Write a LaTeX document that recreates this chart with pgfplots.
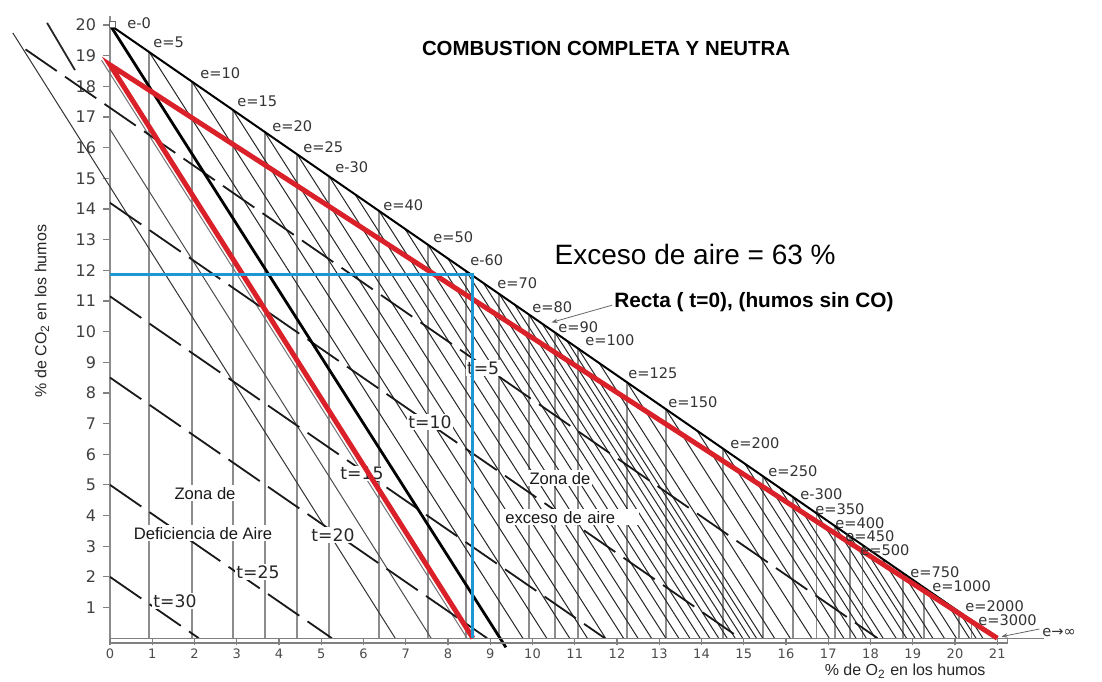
\documentclass[border=0pt]{standalone}
\usepackage{fontspec}
\setmainfont{Liberation Sans}
\newfontfamily\dejavu{DejaVu Sans}
\usepackage{pgfplots}
\pgfplotsset{compat=1.18}
\usetikzlibrary{arrows.meta}
\definecolor{redline}{RGB}{218,32,40}
\definecolor{blueline}{RGB}{30,152,212}
\tikzset{
 elab/.style={anchor=west, inner sep=0pt, font=\dejavu\fontsize{7.3}{8}\selectfont, text=black!80},
 tlab/.style={fill=white, inner sep=0.6pt, font=\dejavu\fontsize{8.6}{10}\selectfont, text=black!85},
 zlab/.style={fill=white, inner sep=1pt, font=\fontsize{8.3}{10}\selectfont, text=black!90},
 tline/.style={black!90, line width=0.9pt, dash pattern=on 19pt off 5pt},
}
\begin{document}
\begin{tikzpicture}
\begin{axis}[
 scale only axis, width=443.5pt, height=306.5pt,
 xmin=0, xmax=21, ymin=0, ymax=20,
 clip=false, axis line style={draw=none},
 xtick={0,...,21}, ytick={1,...,20},
 tick pos=left, tick align=outside,
 major tick length=3.5pt,
 tick style={black!50, line width=0.6pt},
 /pgf/number format/assume math mode=true,
 xticklabel style={font=\dejavu\fontsize{6.5}{7}\selectfont, text=black!70, inner sep=1.5pt},
 yticklabel style={font=\dejavu\fontsize{8}{9}\selectfont, text=black!75},
 unbounded coords=jump,
]
% vertical lines of constant excess air e
\addplot[black!45, line width=0.9pt] coordinates {
(0,0) (0,20.3) (0,nan)
(0.93,0) (0.93,19.114) (0.93,nan)
(1.94,0) (1.94,18.152) (1.94,nan)
(2.91,0) (2.91,17.229) (2.91,nan)
(3.66,0) (3.66,16.514) (3.66,nan)
(4.43,0) (4.43,15.781) (4.43,nan)
(5.19,0) (5.19,15.057) (5.19,nan)
(6.37,0) (6.37,13.933) (6.37,nan)
(7.527,0) (7.527,12.831) (7.527,nan)
(8.428,0) (8.428,11.973) (8.428,nan)
(9.216,0) (9.216,11.223) (9.216,nan)
(9.912,0) (9.912,10.560) (9.912,nan)
(10.53,0) (10.53,9.971) (10.53,nan)
(11.08,0) (11.08,9.448) (11.08,nan)
(12.238,0) (12.238,8.345) (12.238,nan)
(13.152,0) (13.152,7.474) (13.152,nan)
(14.508,0) (14.508,6.183) (14.508,nan)
(15.46,0) (15.46,5.276) (15.46,nan)
(16.17,0) (16.17,4.600) (16.17,nan)
(16.72,0) (16.72,4.076) (16.72,nan)
(17.16,0) (17.16,3.657) (17.16,nan)
(17.52,0) (17.52,3.314) (17.52,nan)
(17.81,0) (17.81,3.038) (17.81,nan)
(18.76,0) (18.76,2.133) (18.76,nan)
(19.27,0) (19.27,1.648) (19.27,nan)
(20.10,0) (20.10,0.857) (20.10,nan)
(20.39,0) (20.39,0.581)
};
% thin diagonals (excess air zone)
\addplot[black!85, line width=0.5pt] coordinates {
(0.93,19.114) (9.771,0) (0,nan)
(1.94,18.152) (10.336,0) (0,nan)
(2.91,17.229) (10.879,0) (0,nan)
(3.66,16.514) (11.298,0) (0,nan)
(4.43,15.781) (11.729,0) (0,nan)
(5.19,15.057) (12.154,0) (0,nan)
(5.80,14.476) (12.496,0) (0,nan)
(6.37,13.933) (12.815,0) (0,nan)
(6.98,13.352) (13.156,0) (0,nan)
(7.527,12.831) (13.462,0) (0,nan)
(7.993,12.388) (13.723,0) (0,nan)
(8.428,11.973) (13.966,0) (0,nan)
(8.835,11.586) (14.194,0) (0,nan)
(9.216,11.223) (14.407,0) (0,nan)
(9.574,10.882) (14.607,0) (0,nan)
(9.912,10.560) (14.796,0) (0,nan)
(10.229,10.258) (14.974,0) (0,nan)
(10.53,9.971) (15.142,0) (0,nan)
(10.813,9.702) (15.300,0) (0,nan)
(11.08,9.448) (15.450,0) (0,nan)
(11.579,8.972) (15.729,0) (0,nan)
(12.238,8.345) (16.098,0) (0,nan)
(13.152,7.474) (16.609,0) (0,nan)
(13.894,6.768) (17.024,0) (0,nan)
(14.508,6.183) (17.368,0) (0,nan)
(15.024,5.691) (17.657,0) (0,nan)
(15.46,5.276) (17.900,0) (0,nan)
(15.844,4.910) (18.115,0) (0,nan)
(16.17,4.600) (18.298,0) (0,nan)
(16.72,4.076) (18.606,0) (0,nan)
(17.16,3.657) (18.852,0) (0,nan)
(17.52,3.314) (19.053,0) (0,nan)
(17.81,3.038) (19.215,0) (0,nan)
(18.274,2.596) (19.475,0) (0,nan)
(18.76,2.133) (19.747,0) (0,nan)
(19.27,1.648) (20.032,0) (0,nan)
(19.818,1.126) (20.339,0) (0,nan)
(20.10,0.857) (20.497,0) (0,nan)
(20.39,0.581) (20.659,0)
};
% thin diagonals (air deficiency zone)
\addplot[black!80, line width=0.5pt] coordinates {(-2.3,19.74) (6.75,0)};
\addplot[black!70, line width=0.5pt] coordinates {(0,16.6) (7.6,0)};
\addplot[black!85, line width=0.9pt] coordinates {(-1.49,20.07) (-0.83,18.53)};
\addplot[black!55, line width=0.5pt] coordinates {(-0.2,18.85) (8.45,0)};
% lines t = const (dashed)
\addplot[tline] coordinates {(-2.0,19.205) (18.165,0)};
\addplot[tline] coordinates {(0,14.2) (14.91,0)};
\addplot[tline] coordinates {(0,11.15) (11.71,0)};
\addplot[tline] coordinates {(0,8.5) (8.925,0)};
\addplot[tline] coordinates {(0,5.0) (5.25,0)};
\addplot[tline] coordinates {(0,2.0) (2.1,0)};
% complete combustion line and neutral combustion line
\addplot[black, line width=1pt] coordinates {(0,20) (21,0)};
\addplot[black, line width=1.4pt] coordinates {(0,20) (9.37,-0.3)};

% x axis ruler
\draw[black!50, line width=0.6pt] (axis cs:0,0) -- (axis cs:21.25,0) -- (axis cs:21.25,-0.16) -- (axis cs:0,-0.16);
\draw[black!50, line width=0.5pt] (axis cs:21.25,0) -- (axis cs:22.1,0);
\draw[black!60, fill=white, line width=0.5pt] (axis cs:-0.02,19.93) rectangle (axis cs:0.12,20.1);

% labels with white background
\node[tlab] at (axis cs:8.83,8.81) {t=5};
\node[tlab] at (axis cs:7.574,7.047) {t=10};
\node[tlab] at (axis cs:5.964,5.383) {t=15};
\node[tlab] at (axis cs:5.278,3.36) {t=20};
\node[tlab] at (axis cs:3.503,2.153) {t=25};
\node[tlab] at (axis cs:1.538,1.207) {t=30};
\node[zlab] at (axis cs:2.249,4.731) {Zona de};
\node[zlab] at (axis cs:2.201,3.426) {Deficiencia de Aire};
\node[zlab] at (axis cs:10.651,5.22) {Zona de};
\node[zlab, anchor=west, text width=66pt] at (axis cs:9.30,3.948) {exceso de aire};

% red and blue lines
\addplot[redline, line width=2.5pt, line join=miter, miter limit=20] coordinates {(21,0) (0,18.7) (8.59,0)};
\addplot[blueline, line width=1.5pt] coordinates {(0,11.85) (8.59,11.85) (8.59,0)};

% e labels
\node[elab] at (axis cs:0.402,20.065) {e-0};
\node[elab] at (axis cs:1.018,19.445) {e=5};
\node[elab] at (axis cs:2.130,18.434) {e=10};
\node[elab] at (axis cs:3.006,17.52) {e=15};
\node[elab] at (axis cs:3.834,16.705) {e=20};
\node[elab] at (axis cs:4.568,16.02) {e=25};
\node[elab] at (axis cs:5.325,15.367) {e-30};
\node[elab] at (axis cs:6.462,14.127) {e=40};
\node[elab] at (axis cs:7.645,13.083) {e=50};
\node[elab] at (axis cs:8.521,12.333) {e-60};
\node[elab] at (axis cs:9.160,11.582) {e=70};
\node[elab] at (axis cs:9.988,10.8) {e=80};
\node[elab] at (axis cs:10.604,10.147) {e=90};
\node[elab] at (axis cs:11.24,9.723) {e=100};
\node[elab] at (axis cs:12.26,8.646) {e=125};
\node[elab] at (axis cs:13.207,7.70) {e=150};
\node[elab] at (axis cs:14.675,6.362) {e=200};
\node[elab] at (axis cs:15.574,5.449) {e=250};
\node[elab] at (axis cs:16.331,4.698) {e-300};
\node[elab] at (axis cs:16.686,4.20) {e=350};
\node[elab] at (axis cs:17.16,3.75) {e=400};
\node[elab] at (axis cs:17.396,3.32) {e=450};
\node[elab] at (axis cs:17.751,2.88) {e=500};
\node[elab] at (axis cs:18.935,2.153) {e=750};
\node[elab] at (axis cs:19.456,1.697) {e=1000};
\node[elab] at (axis cs:20.237,1.04) {e=2000};
\node[elab] at (axis cs:20.544,0.60) {e=3000};
\node[elab] at (axis cs:22.06,0.2) {e→∞};
\draw[black!60, line width=0.4pt, -{Stealth[length=3pt]}] (axis cs:22.0,0.3) -- (axis cs:21.1,0.05);

% texts
\node[font=\bfseries\fontsize{10.2}{12}\selectfont] at (axis cs:11.74,19.25) {COMBUSTION COMPLETA Y NEUTRA};
\node[font=\fontsize{14}{16}\selectfont] at (axis cs:13.85,12.50) {Exceso de aire = 63 \%};
\node[font=\bfseries\fontsize{10.4}{12}\selectfont] at (axis cs:15.24,10.96) {Recta ( t=0), (humos sin CO)};
\draw[black!60, line width=0.4pt, -{Stealth[length=3pt]}] (axis cs:11.88,10.86) -- (axis cs:10.45,10.3);
\node[font=\fontsize{8}{9}\selectfont, text=black!85] at (axis cs:18.82,-1.08) {\% de O\textsubscript{2} en los humos};
\node[rotate=90, font=\fontsize{8}{9}\selectfont, text=black!85] at (axis cs:-1.61,10.67) {\% de CO\textsubscript{2} en los humos};

\coordinate (bl) at (axis cs:-2.604,-1.403);
\coordinate (tr) at (axis cs:23.479,20.816);
\end{axis}
\pgfresetboundingbox
\path[use as bounding box] (bl) rectangle (tr);
\end{tikzpicture}
\end{document}
